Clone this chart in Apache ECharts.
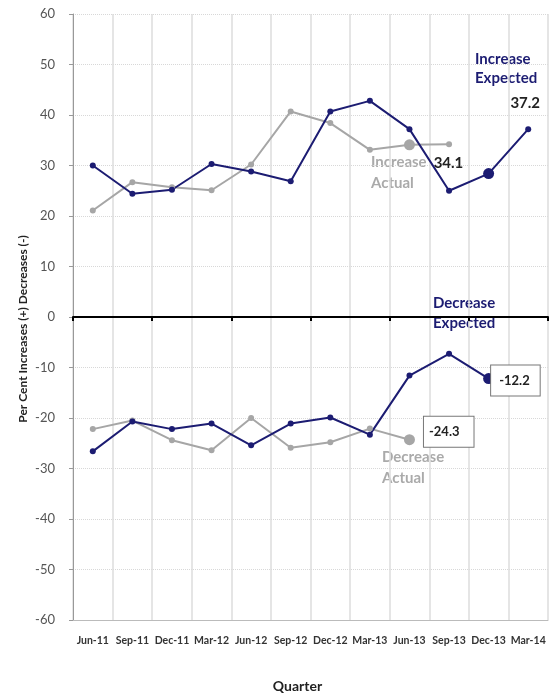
<!DOCTYPE html>
<html lang="en">

<head>
    <meta charset="UTF-8">
    <title>Quarter</title>
    <script src="https://cdn.jsdelivr.net/npm/echarts@6/dist/echarts.min.js"></script>
    <style>
        html, body { margin: 0; padding: 0; background: #fff; }
    </style>
</head>

<body>
    <div id="main" style="width: 550px;height: 693px;"></div>
    <script type="text/javascript">
        var quarters = ['Jun-11', 'Sep-11', 'Dec-11', 'Mar-12', 'Jun-12', 'Sep-12', 'Dec-12', 'Mar-13', 'Jun-13', 'Sep-13', 'Dec-13', 'Mar-14'];
        var yTicks = [-60, -50, -40, -30, -20, -10, 0, 10, 20, 30, 40, 50, 60];
        // expected / actual, increases (+) and decreases (-)
        var increaseExpected = [30.0, 24.4, 25.2, 30.3, 28.8, 26.9, 40.7, 42.8, 37.2, 25.0, 28.4, 37.2];
        var increaseActual = [21.1, 26.7, 25.7, 25.1, 30.2, 40.7, 38.4, 33.1, 34.1, 34.2];
        var decreaseExpected = [-26.6, -20.7, -22.2, -21.1, -25.4, -21.1, -19.9, -23.3, -11.6, -7.3, -12.2];
        var decreaseActual = [-22.2, -20.5, -24.4, -26.4, -20.0, -25.9, -24.8, -22.1, -24.3];

        var navy = '#1c1c72';
        var grey = '#a6a6a6';
        var font = 'Lato';

        // big marker + label on one point
        function pts(arr, bigIdx, big, label) {
            return arr.map(function (v, i) {
                if (i !== bigIdx) return v;
                var d = { value: v, symbolSize: big };
                if (label) d.label = label;
                return d;
            });
        }

        var boxLabel = {
            show: true,
            fontFamily: font,
            fontWeight: 'bold',
            fontSize: 13,
            color: '#222',
            backgroundColor: '#fff',
            borderColor: '#777',
            borderWidth: 1,
            formatter: function (p) { return p.value.toFixed(1); }
        };

        var myChart = echarts.init(document.getElementById('main'));
        myChart.setOption({
            animation: false,
            textStyle: { fontFamily: font },
            grid: { left: 73, right: 2, top: 14, bottom: 73, containLabel: false, outerBoundsMode: 'none' },
            xAxis: [{
                type: 'category',
                data: quarters,
                position: 'bottom',
                axisLine: { onZero: false, lineStyle: { color: '#bbb', width: 1 } },
                axisTick: { show: false },
                axisLabel: { color: '#333', fontSize: 10.5, fontWeight: 'bold', margin: 15, interval: 0 },
                splitLine: { show: true, lineStyle: { color: '#dcdcdc', width: 1.5 } },
                name: 'Quarter',
                nameLocation: 'middle',
                nameGap: 59,
                nameTextStyle: { fontSize: 14, fontWeight: 'bold', color: '#222', padding: [0, 26, 0, 0] }
            }, {
                type: 'category',
                data: quarters,
                position: 'top',
                axisLine: { onZero: true, lineStyle: { color: '#000', width: 2 } },
                axisTick: { show: true, inside: true, length: 4, lineStyle: { color: '#000', width: 2 } },
                axisLabel: { show: false },
                splitLine: { show: false }
            }],
            yAxis: {
                type: 'value',
                min: yTicks[0],
                max: yTicks[yTicks.length - 1],
                interval: 10,
                axisLine: { show: true, lineStyle: { color: '#999' } },
                axisTick: { show: true, length: 4, lineStyle: { color: '#999' } },
                axisLabel: { color: '#555', fontSize: 13, margin: 18 },
                splitLine: { lineStyle: { color: '#d8d8d8', type: 'dotted' } },
                name: 'Per Cent Increases (+) Decreases (-)',
                nameLocation: 'middle',
                nameGap: 44,
                nameMoveOverlap: false,
                nameTextStyle: { fontSize: 12, fontWeight: 'bold', color: '#222', padding: [0, 24, 0, 0] }
            },
            series: [{
                name: 'Increase Actual',
                type: 'line',
                data: pts(increaseActual, 8, 11, {
                    show: true, position: 'inside', offset: [39, 18],
                    fontWeight: 'bold', fontSize: 15, color: '#222', fontFamily: font
                }),
                symbol: 'circle',
                symbolSize: 6,
                itemStyle: { color: grey },
                lineStyle: { color: grey, width: 2 }
            }, {
                name: 'Decrease Actual',
                type: 'line',
                data: pts(decreaseActual, 8, 11, Object.assign({}, boxLabel, {
                    position: 'right', offset: [4, -8], padding: [6, 14, 11, 5]
                })),
                symbol: 'circle',
                symbolSize: 6,
                itemStyle: { color: grey },
                lineStyle: { color: grey, width: 2 }
            }, {
                name: 'Increase Expected',
                type: 'line',
                data: pts(increaseExpected, 10, 11).map(function (d, i) {
                    if (i !== 11) return d;
                    return {
                        value: d, label: {
                            show: true, position: 'top', offset: [-3, -10],
                            fontWeight: 'bold', fontSize: 15, color: '#222', fontFamily: font
                        }
                    };
                }),
                symbol: 'circle',
                symbolSize: 6,
                itemStyle: { color: navy },
                lineStyle: { color: navy, width: 2 }
            }, {
                name: 'Decrease Expected',
                type: 'line',
                data: pts(decreaseExpected, 10, 11, Object.assign({}, boxLabel, {
                    position: 'right', offset: [-8, 2], padding: [9, 10, 8, 8]
                })),
                symbol: 'circle',
                symbolSize: 6,
                itemStyle: { color: navy },
                lineStyle: { color: navy, width: 2 }
            }],
            graphic: [{
                type: 'text', left: 475, top: 50,
                style: { text: 'Increase\nExpected', fill: navy, font: 'bold 15px Lato', lineHeight: 19 }
            }, {
                type: 'text', left: 371, top: 152,
                style: { text: 'Increase\nActual', fill: '#aaa', font: 'bold 15px Lato', lineHeight: 21 }
            }, {
                type: 'text', left: 433, top: 293,
                style: { text: 'Decrease\nExpected', fill: navy, font: 'bold 15px Lato', lineHeight: 20 }
            }, {
                type: 'text', left: 382, top: 447,
                style: { text: 'Decrease\nActual', fill: '#aaa', font: 'bold 15px Lato', lineHeight: 21 }
            }]
        });
    </script>
</body>

</html>
